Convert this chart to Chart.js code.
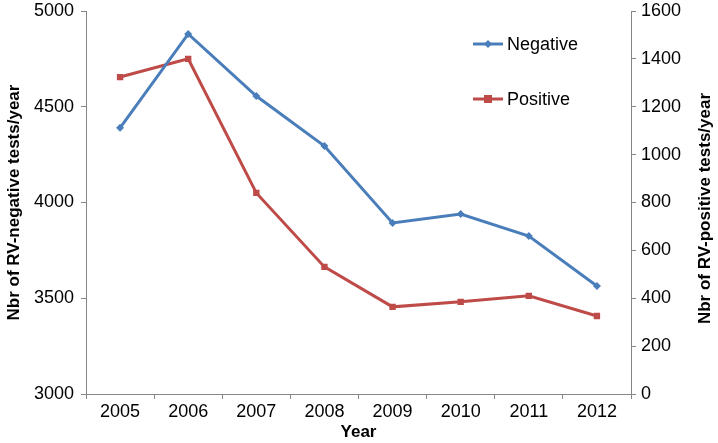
<!DOCTYPE html>
<html>
<head>
<meta charset="utf-8">
<script src="https://cdn.jsdelivr.net/npm/chart.js@4.4.1/dist/chart.umd.min.js"></script>
<style>
  html,body{margin:0;padding:0;background:#fff;}
  #wrap{width:718px;height:443px;position:relative;}
</style>
</head>
<body>
<div id="wrap"><canvas id="myChart" width="718" height="443"></canvas></div>
<script>
// data
const years = ['2005','2006','2007','2008','2009','2010','2011','2012'];
const negative = [4390, 4880, 4556, 4295, 3893, 3940, 3825, 3564];
const positive = [1324, 1400, 840, 531, 364, 385, 410, 326];
const leftTicks = [3000, 3500, 4000, 4500, 5000];
const rightTicks = [0, 200, 400, 600, 800, 1000, 1200, 1400, 1600];
const rightTitle = 'Nbr of RV-positive tests/year';

const blue = '#4a7ebb', red = '#be4b48', axisCol = '#868686';
const fontFam = '"Liberation Sans", Arial, sans-serif';

// legend inside the plot area + right title read bottom-to-top like the left one
const extras = {
    id:'extras',
    afterDraw(chart){
        let c = chart.ctx, a = chart.chartArea;
        let rowY = [a.top+33, a.top+88];
        chart.data.datasets.forEach((ds,i)=>{
            let y = rowY[i], x0 = a.left+387, x1 = x0+30;
            c.save();
            c.strokeStyle = ds.borderColor; c.lineWidth = 3;
            c.beginPath(); c.moveTo(x0,y); c.lineTo(x1,y); c.stroke();
            c.fillStyle = ds.borderColor;
            let mx = (x0+x1)/2;
            if(ds.pointStyle=='rect'){ c.fillRect(mx-4,y-4,8,8); }
            else { c.beginPath(); c.moveTo(mx,y-4); c.lineTo(mx+4,y); c.lineTo(mx,y+4); c.lineTo(mx-4,y); c.closePath(); c.fill(); }
            c.fillStyle = '#000'; c.font = '18px '+fontFam; c.textBaseline = 'middle';
            c.fillText(ds.label, x1+4, y+1);
            c.restore();
        });
        c.save();
        c.translate(705, (a.top+a.bottom)/2+6);
        c.rotate(-Math.PI/2);
        c.fillStyle = '#000'; c.font = 'bold 17px '+fontFam;
        c.textAlign = 'center'; c.textBaseline = 'middle';
        c.fillText(rightTitle, 0, 0);
        c.restore();
    }
};

let plain = v => String(v);
let noPad = s => { s.paddingTop = 0; s.paddingBottom = 0; s.paddingLeft = 0; s.paddingRight = 0; };

var ctx = document.getElementById('myChart').getContext('2d');
var myChart = new Chart(ctx, {
    type: 'line',
    data: {
        labels: years,
        datasets: [{
            label: 'Negative',
            data: negative,
            yAxisID: 'y',
            borderColor: blue,
            backgroundColor: blue,
            borderWidth: 3,
            tension: 0,
            pointStyle: 'rectRot',
            pointRadius: 4,
            pointBorderWidth: 0,
        },{
            label: 'Positive',
            data: positive,
            yAxisID: 'y1',
            borderColor: red,
            backgroundColor: red,
            borderWidth: 3,
            tension: 0,
            pointStyle: 'rect',
            pointRadius: 4.5,
            pointBorderWidth: 0,
        }]
    },
    options: {
        responsive: false,
        animation: false,
        layout: { padding: {top: 11, right: 0, left: 0, bottom: 0} },
        plugins: { legend: {display:false}, tooltip: {enabled:false} },
        scales: {
            x: {
                offset: true,
                grid: { display:true, drawOnChartArea:false, offset:true, color:axisCol, tickLength:5 },
                border: { color: axisCol, width: 1 },
                ticks: { color:'#000', font:{family:fontFam, size:18}, padding:2, maxRotation:0 },
                title: { display:true, text:'Year', color:'#000', font:{family:fontFam, size:17, weight:'bold'}, padding:{top:-2,bottom:0} },
                afterFit(s){ s.height = 49; noPad(s); }
            },
            y: {
                position: 'left',
                min: 3000, max: 5000,
                afterBuildTicks(s){ s.ticks = leftTicks.map(v=>({value:v})); },
                grid: { display:true, drawOnChartArea:false, color:axisCol, tickLength:5 },
                border: { color: axisCol, width: 1 },
                ticks: { color:'#000', font:{family:fontFam, size:18}, padding:7, callback: plain },
                title: { display:true, text:'Nbr of RV-negative tests/year', color:'#000', font:{family:fontFam, size:17, weight:'bold'}, padding:{top:4,bottom:0} },
                afterFit(s){ s.width = 86; noPad(s); }
            },
            y1: {
                position: 'right',
                min: 0, max: 1600,
                afterBuildTicks(s){ s.ticks = rightTicks.map(v=>({value:v})); },
                grid: { display:true, drawOnChartArea:false, color:axisCol, tickLength:5 },
                border: { color: axisCol, width: 1 },
                ticks: { color:'#000', font:{family:fontFam, size:18}, padding:5, callback: plain },
                afterFit(s){ s.width = 87; noPad(s); }
            }
        }
    },
    plugins: [extras]
});
</script>
</body>
</html>
